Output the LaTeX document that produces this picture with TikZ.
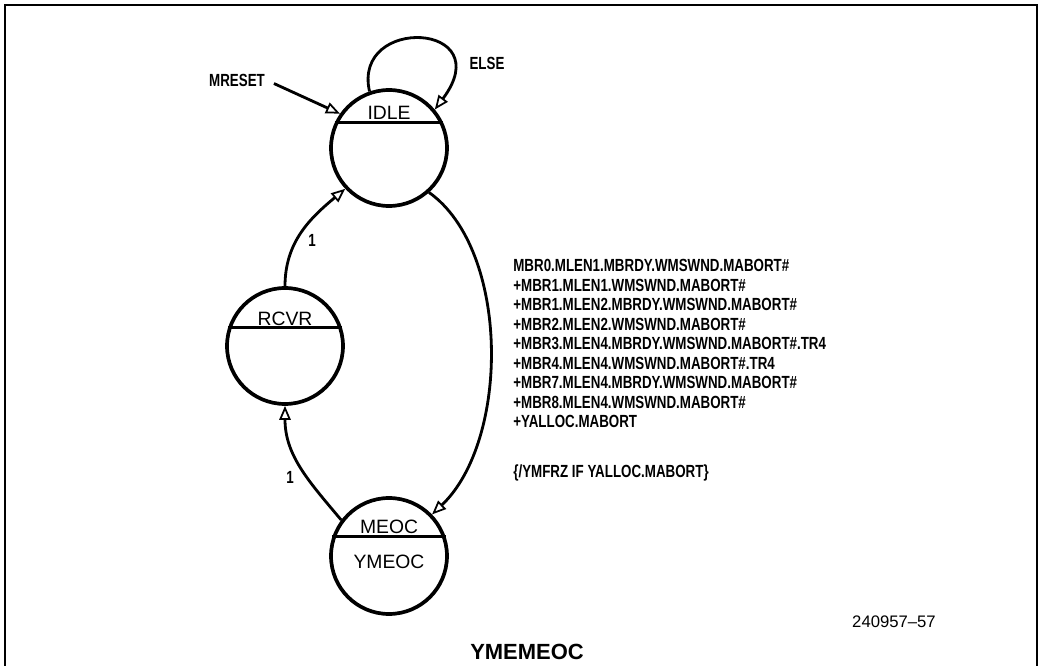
\documentclass[tikz,border=0pt]{standalone}
\usepackage{fontspec}
\setmainfont{Liberation Sans}
\newfontfamily\plotfont[FakeStretch=0.76]{Liberation Sans}
\usetikzlibrary{arrows.meta,calc}

\begin{document}
\begin{tikzpicture}[x=0.02cm, y=-0.02cm]
        \tikzstyle{circ} = [draw, circle, line width=2.1pt, minimum size=2.32cm, inner sep=0pt]
        \tikzstyle{edge} = [line width=1.6pt, -{Triangle[open, length=8pt, width=6.5pt, line width=1pt]}]
        \tikzstyle{plot} = [font=\plotfont\bfseries\fontsize{10}{11.1}\selectfont, inner sep=0pt]
        \tikzstyle{lbl} = [font=\fontsize{11}{12}\selectfont, inner sep=0pt]
        \useasboundingbox (0,0) rectangle (1042,666);
        \draw[line width=0.8pt] (5,666) -- (5,5) -- (1037,5) -- (1037,666);
        % states
        \node[circ] (idle) at (389,148) {};
        \node[circ] (rcvr) at (285,346) {};
        \node[circ] (meoc) at (389,556) {};
        \draw[line width=1.4pt] (idle.155) -- (idle.25);
        \draw[line width=1.4pt] (rcvr.162) -- (rcvr.18);
        \draw[line width=1.4pt] (meoc.161) -- (meoc.19);
        \node[lbl] (idlename) at ($(idle.center)+(0,-35)$) {IDLE};
        \node[lbl] (rcvrname) at ($(rcvr.center)+(0,-27)$) {RCVR};
        \node[lbl] (meocname) at ($(meoc.center)+(0,-29)$) {MEOC};
        \node[lbl] (meocout) at ($(meoc.center)+(0,6)$) {YMEOC};
        % transitions
        \node[plot] (mreset) at (237,80) {MRESET};
        \node[plot] (else) at (487,63) {ELSE};
        \node[plot] (one1) at (312,240) {1};
        \node[plot] (one2) at (290,477) {1};
        \draw[edge] ([xshift=5pt,yshift=-2pt]mreset.east) -- (idle.145);
        \draw[edge] (idle.109) .. controls (352,15) and (500,22) .. (idle.40);
        \draw[edge] (rcvr.north) to[out=90, in=220] (idle.223);
        \draw[edge] (idle.312) .. controls (510,250) and (510,440) .. (meoc.44);
        \draw[edge] (meoc.143) to[out=130, in=270] (rcvr.south);
        \node[plot, anchor=north west, align=left] (cond) at (513,259) {MBR0.MLEN1.MBRDY.WMSWND.MABORT\#\\
          +MBR1.MLEN1.WMSWND.MABORT\#\\
          +MBR1.MLEN2.MBRDY.WMSWND.MABORT\#\\
          +MBR2.MLEN2.WMSWND.MABORT\#\\
          +MBR3.MLEN4.MBRDY.WMSWND.MABORT\#.TR4\\
          +MBR4.MLEN4.WMSWND.MABORT\#.TR4\\
          +MBR7.MLEN4.MBRDY.WMSWND.MABORT\#\\
          +MBR8.MLEN4.WMSWND.MABORT\#\\
          +YALLOC.MABORT\\[17pt]
          \{/YMFRZ IF YALLOC.MABORT\}};
        % figure labels
        \node[font=\fontsize{9.5}{11}\selectfont, inner sep=0pt] (fignum) at (894,622) {240957--57};
        \node[font=\bfseries\fontsize{12.5}{14}\selectfont, inner sep=0pt] (title) at (527,652) {YMEMEOC};
      \end{tikzpicture}
\end{document}
